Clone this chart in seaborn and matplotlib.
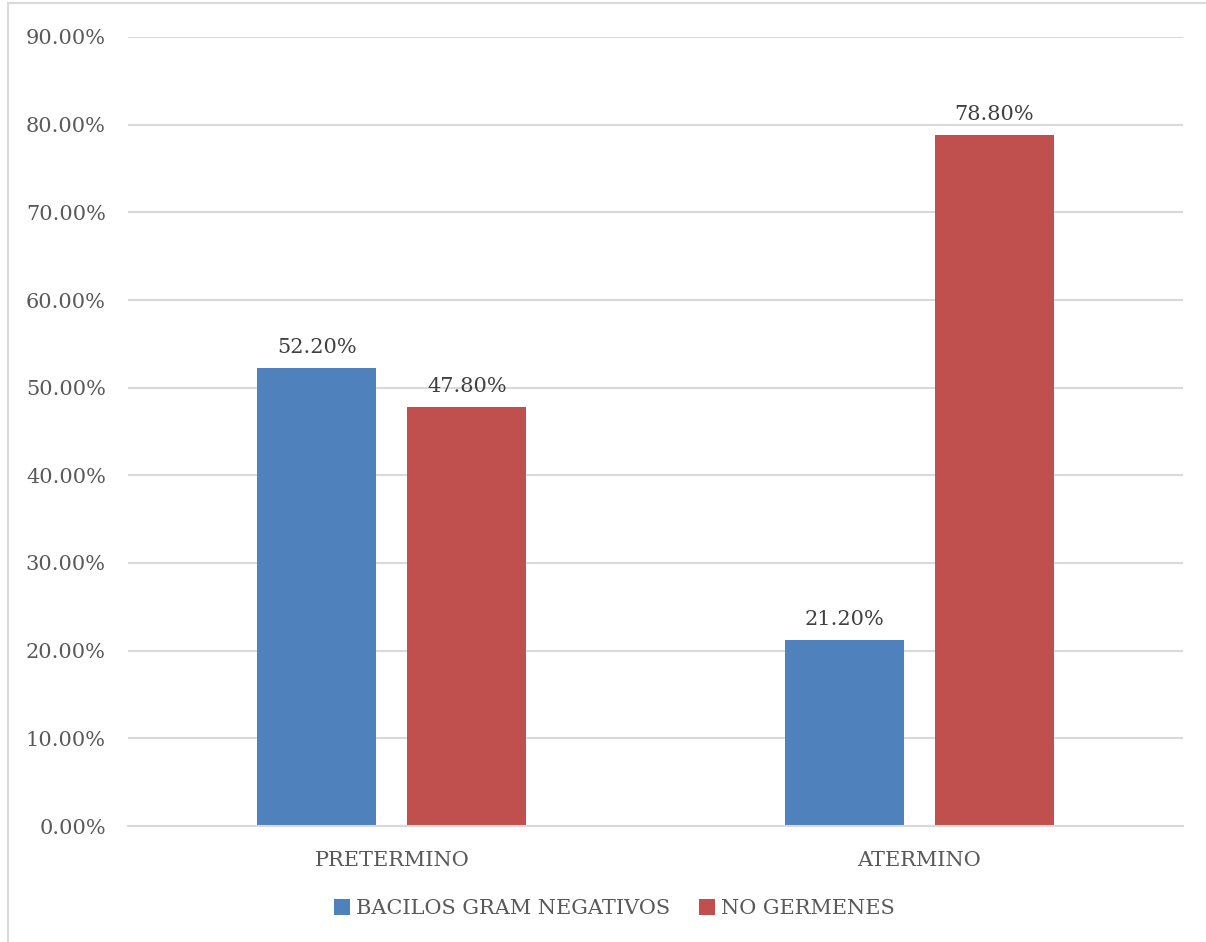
import matplotlib
matplotlib.use("Agg")
import matplotlib.pyplot as plt
import pandas as pd
import seaborn as sns
from matplotlib.patches import Rectangle
from matplotlib.ticker import FuncFormatter

categories = ["PRETERMINO", "ATERMINO"]
series_names = ["BACILOS GRAM NEGATIVOS", "NO GERMENES"]
bacilos = [52.2, 21.2]
no_germenes = [47.8, 78.8]
y_ticks = [0, 10, 20, 30, 40, 50, 60, 70, 80, 90]

df = pd.DataFrame({
    "categoria": categories * 2,
    "serie": [series_names[0]] * 2 + [series_names[1]] * 2,
    "valor": bacilos + no_germenes,
})

sns.set_theme(style="white")
plt.rcParams["font.family"] = ["DejaVu Serif"]
text_color = "#595959"
grid_color = "#d9d9d9"

fig = plt.figure(figsize=(12.06, 9.42), dpi=100)
ax = fig.add_axes([128 / 1206, 1 - 826 / 942, (1183 - 128) / 1206, (826 - 37) / 942])

sns.barplot(
    data=df, x="categoria", y="valor", hue="serie", order=categories,
    hue_order=series_names, palette=["#4F81BD", "#C0504D"], saturation=1,
    width=0.569, gap=0.207, linewidth=0, ax=ax, legend=True,
)

ax.set_xlim(-0.5, 1.5)
ax.set_ylim(0, 90)
ax.set_yticks(y_ticks)
ax.yaxis.set_major_formatter(FuncFormatter(lambda v, _: f"{v:.2f}%"))
ax.grid(axis="y", color=grid_color, linewidth=1.5)
ax.set_axisbelow(True)
for side in ["top", "right", "left"]:
    ax.spines[side].set_visible(False)
ax.spines["bottom"].set_color(grid_color)
ax.spines["bottom"].set_linewidth(1.5)
ax.tick_params(axis="both", length=0, labelsize=15, colors=text_color)
ax.tick_params(axis="y", pad=16)
ax.tick_params(axis="x", pad=18)
ax.set_xlabel("")
ax.set_ylabel("")

for container in ax.containers:
    ax.bar_label(container, labels=[f"{v:.2f}%" for v in container.datavalues],
                 padding=8, fontsize=15, color="#404040")

leg = ax.legend(loc="center", bbox_to_anchor=(0.461, -0.105), ncol=2, frameon=False,
                fontsize=15, handlelength=0.75, handleheight=0.75, handletextpad=0.3,
                columnspacing=1.4)
for t in leg.get_texts():
    t.set_color(text_color)

fig.patches.append(Rectangle((8 / 1206, -0.01), 1.0, 1 - 3 / 942 + 0.01,
                             transform=fig.transFigure, fill=False,
                             edgecolor=grid_color, linewidth=1.5))

fig.savefig("out.png", dpi=100, facecolor="white")
